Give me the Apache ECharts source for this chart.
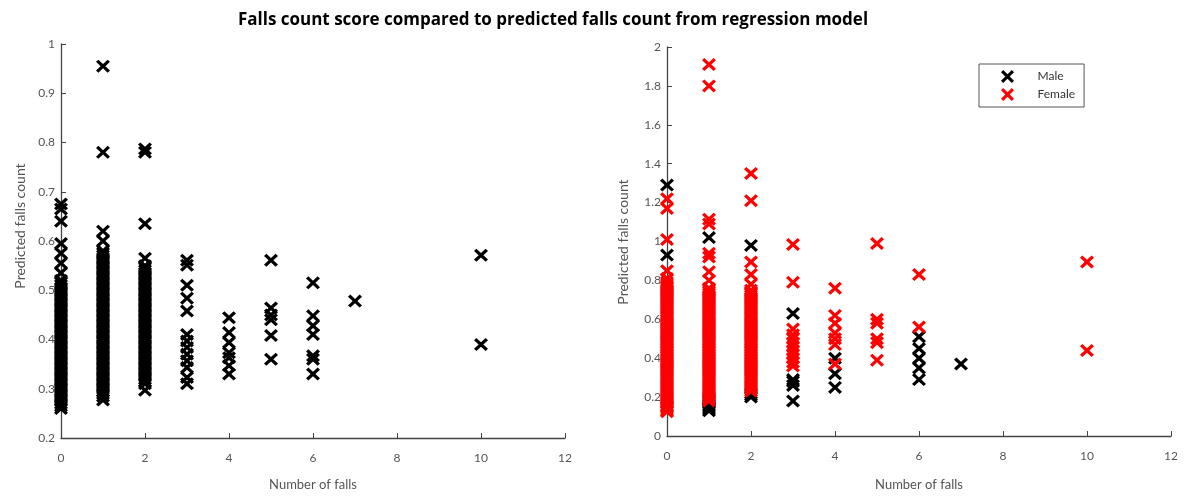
<!DOCTYPE html>
<html>
<head>
<meta charset="utf-8">
<script src="https://cdn.jsdelivr.net/npm/echarts@6/dist/echarts.min.js"></script>
<style>
html,body{margin:0;padding:0;background:#fff;}
#chart{width:1184px;height:496px;}
</style>
</head>
<body>
<div id="chart"></div>
<script>
// ---------- DATA ----------
var titleText = 'Falls count score compared to predicted falls count from regression model';
var xTicks = [0, 2, 4, 6, 8, 10, 12];

// Left panel: all subjects, falls count -> predicted falls count
var leftFalls = [0, 1, 2, 3, 4, 5, 6, 7, 10];
var leftPred0 = [0.26,0.265,0.27,0.275,0.28,0.285,0.29,0.295,0.30,0.305,0.31,0.315,0.32,0.325,0.33,0.335,0.34,0.345,0.35,0.355,0.36,0.365,0.37,0.375,0.38,0.385,0.39,0.395,0.40,0.405,0.41,0.415,0.42,0.425,0.43,0.435,0.44,0.445,0.45,0.455,0.46,0.465,0.47,0.475,0.48,0.485,0.49,0.495,0.50,0.505,0.51,0.515,0.52,0.535,0.555,0.575,0.595,0.64,0.665,0.675];
var leftPred1 = [0.277,0.285,0.29,0.295,0.30,0.305,0.31,0.315,0.32,0.325,0.33,0.335,0.34,0.345,0.35,0.355,0.36,0.365,0.37,0.375,0.38,0.385,0.39,0.395,0.40,0.405,0.41,0.415,0.42,0.425,0.43,0.435,0.44,0.445,0.45,0.455,0.46,0.465,0.47,0.475,0.48,0.485,0.49,0.495,0.50,0.505,0.51,0.515,0.52,0.525,0.53,0.535,0.54,0.545,0.55,0.555,0.56,0.565,0.57,0.575,0.58,0.60,0.62,0.78,0.955];
var leftPred2 = [0.297,0.31,0.315,0.32,0.325,0.33,0.335,0.34,0.345,0.35,0.355,0.36,0.365,0.37,0.375,0.38,0.385,0.39,0.395,0.40,0.405,0.41,0.415,0.42,0.425,0.43,0.435,0.44,0.445,0.45,0.455,0.46,0.465,0.47,0.475,0.48,0.485,0.49,0.495,0.50,0.505,0.51,0.515,0.52,0.525,0.53,0.535,0.54,0.545,0.55,0.565,0.635,0.78,0.787];
var leftPred3 = [0.31,0.323,0.343,0.357,0.37,0.384,0.397,0.41,0.458,0.484,0.51,0.551,0.561];
var leftPred4 = [0.33,0.347,0.363,0.373,0.394,0.414,0.444];
var leftPred5 = [0.36,0.408,0.44,0.45,0.464,0.561];
var leftPred6 = [0.33,0.36,0.367,0.41,0.428,0.448,0.515];
var leftPred7 = [0.478];
var leftPred10 = [0.39,0.571];
var leftPred = [leftPred0, leftPred1, leftPred2, leftPred3, leftPred4, leftPred5, leftPred6, leftPred7, leftPred10];

// Right panel: by sex
var maleFalls = [0, 1, 2, 3, 4, 6, 7];
var malePred0 = [0.15,0.93,1.29];
var malePred1 = [0.13,0.14,0.15,0.16,0.17,0.18,0.19,1.02];
var malePred2 = [0.20,0.21,0.22,0.98];
var malePred3 = [0.18,0.26,0.28,0.29,0.63];
var malePred4 = [0.25,0.32,0.40];
var malePred6 = [0.29,0.35,0.40,0.45,0.51];
var malePred7 = [0.37];
var malePred = [malePred0, malePred1, malePred2, malePred3, malePred4, malePred6, malePred7];

var femaleFalls = [0, 1, 2, 3, 4, 5, 6, 10];
var femalePred0 = [0.125,0.13,0.14,0.15,0.16,0.17,0.18,0.19,0.20,0.21,0.22,0.23,0.24,0.25,0.26,0.27,0.28,0.29,0.30,0.31,0.32,0.33,0.34,0.35,0.36,0.37,0.38,0.39,0.40,0.41,0.42,0.43,0.44,0.45,0.46,0.47,0.48,0.49,0.50,0.51,0.52,0.53,0.54,0.55,0.56,0.57,0.58,0.59,0.60,0.61,0.62,0.63,0.64,0.65,0.66,0.67,0.68,0.69,0.70,0.71,0.72,0.73,0.74,0.75,0.76,0.77,0.78,0.79,0.81,0.85,1.01,1.17,1.22];
var femalePred1 = [0.18,0.19,0.20,0.21,0.22,0.23,0.24,0.25,0.26,0.27,0.28,0.29,0.30,0.31,0.32,0.33,0.34,0.35,0.36,0.37,0.38,0.39,0.40,0.41,0.42,0.43,0.44,0.45,0.46,0.47,0.48,0.49,0.50,0.51,0.52,0.53,0.54,0.55,0.56,0.57,0.58,0.59,0.60,0.61,0.62,0.63,0.64,0.65,0.66,0.67,0.68,0.69,0.70,0.71,0.72,0.73,0.74,0.75,0.76,0.80,0.845,0.92,0.94,1.09,1.115,1.80,1.91];
var femalePred2 = [0.23,0.24,0.25,0.26,0.27,0.28,0.29,0.30,0.31,0.32,0.33,0.34,0.35,0.36,0.37,0.38,0.39,0.40,0.41,0.42,0.43,0.44,0.45,0.46,0.47,0.48,0.49,0.50,0.51,0.52,0.53,0.54,0.55,0.56,0.57,0.58,0.59,0.60,0.61,0.62,0.63,0.64,0.65,0.66,0.67,0.68,0.69,0.70,0.71,0.72,0.73,0.74,0.75,0.78,0.83,0.895,1.21,1.35];
var femalePred3 = [0.36,0.38,0.40,0.42,0.44,0.46,0.48,0.50,0.52,0.55,0.79,0.985];
var femalePred4 = [0.37,0.47,0.50,0.53,0.58,0.62,0.76];
var femalePred5 = [0.39,0.48,0.50,0.58,0.60,0.99];
var femalePred6 = [0.56,0.83];
var femalePred10 = [0.44,0.895];
var femalePred = [femalePred0, femalePred1, femalePred2, femalePred3, femalePred4, femalePred5, femalePred6, femalePred10];

// ---------- BUILD ----------
function pairs(xs, ys) {
  var out = [];
  for (var i = 0; i < xs.length; i++) {
    for (var j = 0; j < ys[i].length; j++) out.push([xs[i], ys[i][j]]);
  }
  return out;
}
var crossPath = 'path://M0,1.7L1.7,0L5,3.3L8.3,0L10,1.7L6.7,5L10,8.3L8.3,10L5,6.7L1.7,10L0,8.3L3.3,5Z';
var font = 'Lato, "Open Sans", sans-serif';
var axisColor = '#444';
var labelColor = '#555';
var markSize = [14, 13];

function xAxisCfg(gridIndex, nameGap) {
  return {
    gridIndex: gridIndex, type: 'value', min: 0, max: 12, interval: 2,
    name: 'Number of falls', nameLocation: 'middle', nameGap: nameGap,
    nameTextStyle: {color: labelColor, fontSize: 13, fontFamily: font},
    axisLine: {show: true, onZero: false, lineStyle: {color: axisColor, width: 1.3}},
    axisTick: {show: true, inside: true, length: 5, lineStyle: {color: axisColor}},
    axisLabel: {color: labelColor, fontSize: 12, fontFamily: font, margin: 14,
      formatter: function (v) { return xTicks.indexOf(v) >= 0 ? String(v) : ''; }},
    splitLine: {show: false}
  };
}
function yAxisCfg(gridIndex, min, max, interval) {
  return {
    gridIndex: gridIndex, type: 'value', min: min, max: max, interval: interval,
    axisLine: {show: true, onZero: false, lineStyle: {color: axisColor, width: 1.3}},
    axisTick: {show: true, inside: true, length: 5, lineStyle: {color: axisColor}},
    axisLabel: {color: labelColor, fontSize: 12, fontFamily: font, margin: 6,
      formatter: function (v) { return String(Math.round(v * 10) / 10); }},
    splitLine: {show: false}
  };
}

var chart = echarts.init(document.getElementById('chart'), null, {renderer: 'canvas'});
chart.setOption({
  backgroundColor: '#fff',
  animation: false,
  title: {
    text: titleText, left: 548, top: 7, textAlign: 'center',
    textStyle: {fontFamily: '"Open Sans", Lato, sans-serif', fontWeight: 'bold', fontSize: 17, color: '#000'}
  },
  grid: [
    {left: 61, top: 44, width: 504, height: 397},
    {left: 667, top: 47, width: 504, height: 398}
  ],
  xAxis: [xAxisCfg(0, 40), xAxisCfg(1, 42)],
  yAxis: [yAxisCfg(0, 0.2, 1, 0.1), yAxisCfg(1, 0, 2, 0.2)],
  legend: {
    data: ['Male', 'Female'], orient: 'vertical', left: 979, top: 64,
    borderColor: '#555', borderWidth: 1, padding: [6, 9, 6, 22],
    itemWidth: 14, itemHeight: 13, itemGap: 5,
    textStyle: {fontFamily: font, fontSize: 12, color: '#333', padding: [0, 0, 0, 18]}
  },
  graphic: [
    {type: 'text', x: 20, y: 226, rotation: Math.PI / 2,
      style: {text: 'Predicted falls count', font: '14px ' + font, fill: labelColor, textAlign: 'center', textVerticalAlign: 'middle'}},
    {type: 'text', x: 623, y: 242, rotation: Math.PI / 2,
      style: {text: 'Predicted falls count', font: '14px ' + font, fill: labelColor, textAlign: 'center', textVerticalAlign: 'middle'}}
  ],
  series: [
    {name: 'All', type: 'scatter', xAxisIndex: 0, yAxisIndex: 0,
      symbol: crossPath, symbolSize: markSize, itemStyle: {color: '#000', opacity: 1},
      data: pairs(leftFalls, leftPred)},
    {name: 'Male', type: 'scatter', xAxisIndex: 1, yAxisIndex: 1,
      symbol: crossPath, symbolSize: markSize, itemStyle: {color: '#000', opacity: 1},
      data: pairs(maleFalls, malePred)},
    {name: 'Female', type: 'scatter', xAxisIndex: 1, yAxisIndex: 1,
      symbol: crossPath, symbolSize: markSize, itemStyle: {color: '#ff0000', opacity: 1},
      data: pairs(femaleFalls, femalePred)}
  ]
});
</script>
</body>
</html>
